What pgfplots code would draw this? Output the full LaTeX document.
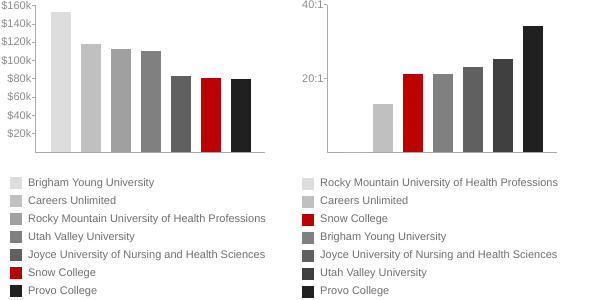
\documentclass[border=0pt]{standalone}
\usepackage{pgfplots}
\pgfplotsset{compat=1.18}
\usepackage{fontspec}
\setmainfont{Liberation Sans}
\definecolor{ticktext}{HTML}{8A8A8A}
\definecolor{legtext}{HTML}{6E6E6E}
\definecolor{axline}{HTML}{AAAAAA}
\definecolor{cA}{HTML}{DDDDDD}
\definecolor{cB}{HTML}{C0C0C0}
\definecolor{cC}{HTML}{A0A0A0}
\definecolor{cD}{HTML}{808080}
\definecolor{cE}{HTML}{606060}
\definecolor{cF}{HTML}{404040}
\definecolor{cG}{HTML}{202020}
\definecolor{cR}{HTML}{BB0000}
\pgfplotsset{
  mybars/.style={
    scale only axis,
    axis x line*=bottom,
    axis y line*=left,
    axis line style={axline, line width=0.8pt},
    xtick=\empty,
    xmin=-0.867, xmax=6.8,
    ymin=0,
    tick align=outside,
    major tick length=3pt,
    tick style={axline, line width=0.6pt},
    y tick label style={font=\fontsize{11}{13}\selectfont, text=ticktext, inner sep=0.5pt},
    ybar, bar width=20pt, bar shift=0pt,
    every axis plot/.append style={draw=none},
    area legend,
    legend image code/.code={\fill[##1,draw=none] (0pt,-6pt) rectangle (12pt,6pt);},
    legend cell align=left,
    legend style={draw=none, fill=none, inner sep=0pt, row sep=6pt,
      font=\fontsize{11}{13}\selectfont, text=legtext,
      nodes={inner sep=0pt, text height=8pt, text depth=2pt},
      /tikz/every odd column/.append style={column sep=6pt},
      anchor=north west},
  }
}
\begin{document}
\begin{tikzpicture}[x=1pt,y=1pt]
\path[use as bounding box] (0,0) rectangle (600,300);
\begin{axis}[mybars,
  at={(35pt,148pt)}, anchor=south west,
  width=230pt, height=146.5pt,
  ymax=160,
  ytick={20,40,60,80,100,120,140,160},
  yticklabels={\$20k,\$40k,\$60k,\$80k,\$100k,\$120k,\$140k,\$160k},
  legend style={at={(-0.109,-0.171)}},
]
\addplot[fill=cA] coordinates {(0,153)};
\addplot[fill=cB] coordinates {(1,118)};
\addplot[fill=cC] coordinates {(2,112.8)};
\addplot[fill=cD] coordinates {(3,110.3)};
\addplot[fill=cE] coordinates {(4,83)};
\addplot[fill=cR] coordinates {(5,80.4)};
\addplot[fill=cG] coordinates {(6,79.7)};
\legend{Brigham Young University,Careers Unlimited,Rocky Mountain University of Health Professions,Utah Valley University,Joyce University of Nursing and Health Sciences,Snow College,Provo College}
\end{axis}
\begin{axis}[mybars,
  at={(327.3pt,147.7pt)}, anchor=south west,
  width=229.7pt, height=147.6pt,
  ymax=40,
  ytick={20,40},
  yticklabels={20:1,40:1},
  legend style={at={(-0.110,-0.171)}},
]
\addplot[fill=cA] coordinates {(0,0)};
\addplot[fill=cB] coordinates {(1,13.1)};
\addplot[fill=cR] coordinates {(2,21.2)};
\addplot[fill=cD] coordinates {(3,21.1)};
\addplot[fill=cE] coordinates {(4,23.1)};
\addplot[fill=cF] coordinates {(5,25.2)};
\addplot[fill=cG] coordinates {(6,34.2)};
\legend{Rocky Mountain University of Health Professions,Careers Unlimited,Snow College,Brigham Young University,Joyce University of Nursing and Health Sciences,Utah Valley University,Provo College}
\end{axis}
\end{tikzpicture}
\end{document}
